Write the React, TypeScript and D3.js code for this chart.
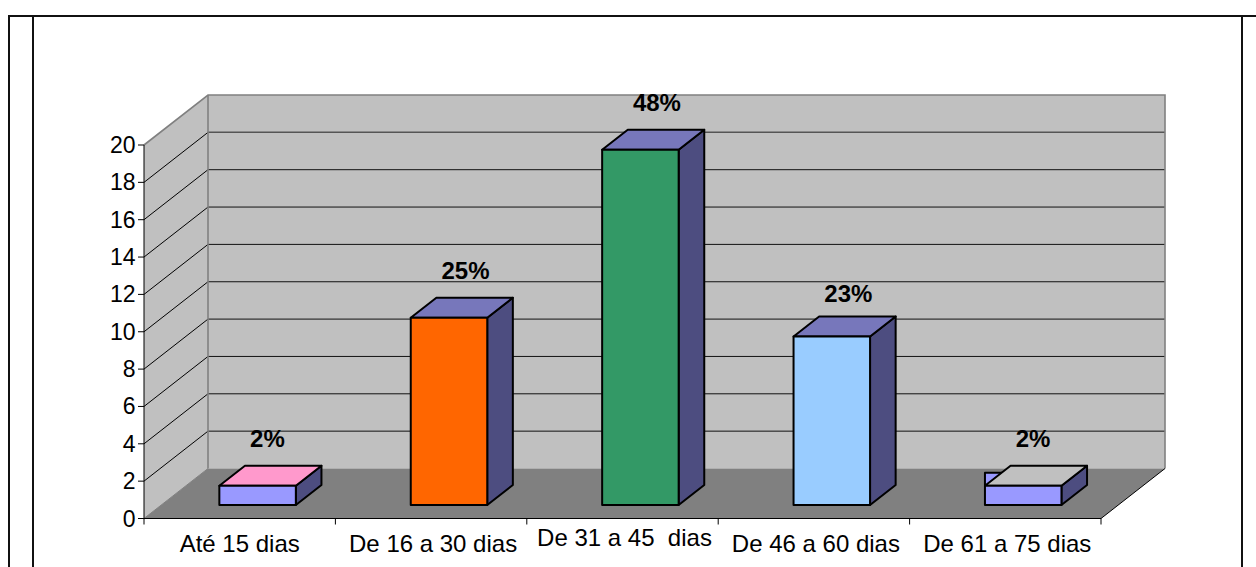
import React from "react";
import * as d3 from "d3";

// Duration bands and the respondent count in each one
const categories = ["Até 15 dias", "De 16 a 30 dias", "De 31 a 45  dias", "De 46 a 60 dias", "De 61 a 75 dias"];
const counts = [1, 10, 19, 9, 1];
const percentLabels = ["2%", "25%", "48%", "23%", "2%"];
const frontColors = ["#9999ff", "#ff6600", "#339966", "#99ccff", "#9999ff"];
const topColors = ["#ff99cc", "#7777bb", "#7777bb", "#7777bb", "#c0c0c0"];
const yTicks = d3.range(0, 21, 2);

const SIDE = "#4d4d80";
const FONT = "'Liberation Sans', Arial, sans-serif";

// Oblique projection of the chart box
const depthX = 64;
const depthY = -50;
const barNear = 0.27;
const barFar = 0.67;
const barWidth = 76.5;
const barShift = 17.9;

const x = d3.scaleBand<number>().domain(d3.range(categories.length)).range([144, 1101]);
const y = d3.scaleLinear().domain([0, 20]).range([518.5, 145]);

const pts = (list: [number, number][]) => list.map((p) => p.join(",")).join(" ");

function Bar({ i }: { i: number }) {
  const cx = x(i)! + x.bandwidth() / 2 + barShift;
  const l = cx - barWidth / 2;
  const r = cx + barWidth / 2;
  const dy0 = depthY * barNear;
  const ddx = depthX * (barFar - barNear);
  const ddy = depthY * (barFar - barNear);
  const bottom = y(0) + dy0;
  const top = y(counts[i]) + dy0 - 0.5;
  const stroke = { stroke: "#000", strokeWidth: 2, strokeLinejoin: "round" as const };
  // The last bar's face shows a sliver behind its lid
  const sliver = i === categories.length - 1;
  // The 23% label sits a little closer to its bar than the others
  const labelGap = i === 3 ? 14 : 19;
  return (
    <g>
      {sliver && <rect x={l} y={top - 13} width={20} height={13} fill={frontColors[i]} {...stroke} />}
      <polygon points={pts([[r, bottom], [r + ddx, bottom + ddy], [r + ddx, top + ddy], [r, top]])} fill={SIDE} {...stroke} />
      <polygon points={pts([[l, top], [l + ddx, top + ddy], [r + ddx, top + ddy], [r, top]])} fill={topColors[i]} {...stroke} />
      <rect x={l} y={top} width={barWidth} height={bottom - top} fill={frontColors[i]} {...stroke} />
      <text x={cx - 7.5} y={top + ddy - labelGap} fontSize={24} fontWeight="bold" textAnchor="start" fontFamily={FONT} fill="#000">
        {percentLabels[i]}
      </text>
    </g>
  );
}

export default function App() {
  const x0 = x.range()[0];
  const x1 = x.range()[1];
  const y0 = y(0);
  const y20 = y(20);
  return (
    <svg width={1256} height={567} style={{ position: "absolute", left: 0, top: 0 }}>
      <rect width={1256} height={567} fill="#fff" />
      {/* Document table rules */}
      <g stroke="#111" strokeWidth={2}>
        <line x1={8} y1={16} x2={1256} y2={16} />
        <line x1={9} y1={16} x2={9} y2={567} />
        <line x1={33} y1={16} x2={33} y2={567} />
        <line x1={1242} y1={16} x2={1242} y2={567} />
      </g>
      {/* Walls and floor */}
      <polygon points={pts([[x0, y0], [x0 + depthX, y0 + depthY], [x1 + depthX, y0 + depthY], [x1 + depthX, y20 + depthY], [x0 + depthX, y20 + depthY], [x0, y20]])} fill="#c0c0c0" />
      <polygon points={pts([[x0, y0], [x0 + depthX, y0 + depthY], [x1 + depthX, y0 + depthY], [x1, y0]])} fill="#808080" />
      {yTicks.filter((t) => t > 0 && t < 20).map((t) => (
        <g key={t} stroke={t === 18 ? "#555" : "#111"} strokeWidth={t === 18 ? 1.5 : 1}>
          <line x1={x0} y1={y(t)} x2={x0 + depthX} y2={y(t) + depthY} stroke="#000" strokeWidth={1} />
          <line x1={x0 + depthX} y1={y(t) + depthY} x2={x1 + depthX} y2={y(t) + depthY} />
        </g>
      ))}
      <g fill="none" stroke="#808080" strokeWidth={1.6}>
        <polyline points={pts([[x0, y20], [x0 + depthX, y20 + depthY], [x1 + depthX, y20 + depthY], [x1 + depthX, y0 + depthY]])} />
        <line x1={x0 + depthX} y1={y20 + depthY} x2={x0 + depthX} y2={y0 + depthY} />
      </g>
      <line x1={x1} y1={y0} x2={x1 + depthX} y2={y0 + depthY} stroke="#000" strokeWidth={1} />
      <line x1={x0} y1={y0} x2={x0 + depthX} y2={y0 + depthY} stroke="#808080" strokeWidth={1} />
      {/* Axes */}
      <g stroke="#000" strokeWidth={1}>
        <line x1={x0} y1={y20} x2={x0} y2={y0 + 6} />
        <line x1={x0} y1={y0} x2={x1} y2={y0} />
        {yTicks.map((t) => (
          <line key={t} x1={x0 - 6} y1={y(t)} x2={x0} y2={y(t)} />
        ))}
        {categories.map((_, i) => (
          <line key={i} x1={x(i)! + x.bandwidth()} y1={y0} x2={x(i)! + x.bandwidth()} y2={y0 + 6} />
        ))}
      </g>
      {yTicks.map((t) => (
        <text key={t} x={135.5} y={y(t) + 8} fontSize={23} textAnchor="end" fontFamily={FONT} fill="#000">
          {t}
        </text>
      ))}
      {categories.map((c, i) => (
        <text key={c} x={x(i)! + x.bandwidth() / 2 + (i === 0 ? 0 : 2)} y={i === 2 ? 546 : 552} fontSize={24} textAnchor="middle" fontFamily={FONT} fill="#000" xmlSpace="preserve">
          {c}
        </text>
      ))}
      {counts.map((_, i) => (
        <Bar key={i} i={i} />
      ))}
    </svg>
  );
}
